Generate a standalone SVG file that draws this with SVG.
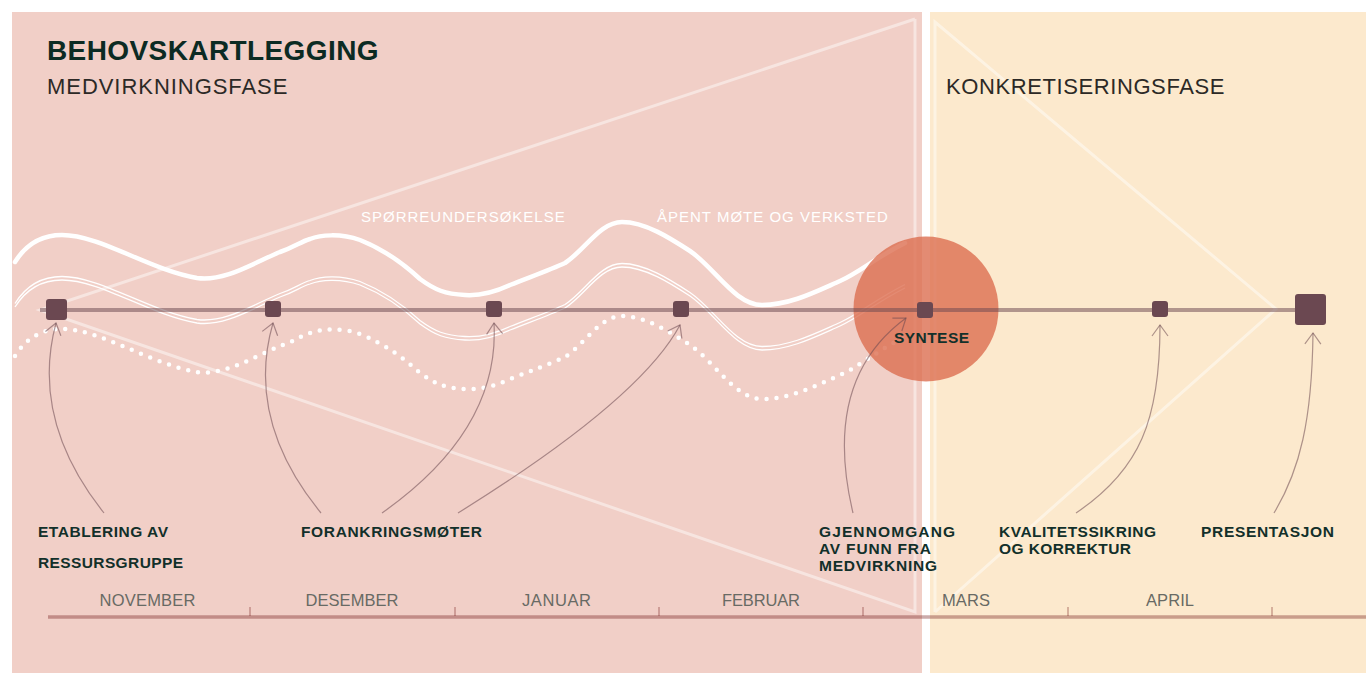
<svg xmlns="http://www.w3.org/2000/svg" xmlns:xlink="http://www.w3.org/1999/xlink" width="1366" height="673" viewBox="0 0 1366 673">
<style>
text{font-family:"Liberation Sans",Arial,sans-serif}
.title{font-size:28px;font-weight:bold;fill:#0c2b23;letter-spacing:0.4px}
.phase{font-size:22px;fill:#2c2926;letter-spacing:0.6px}
.lbl{font-size:15.5px;font-weight:bold;fill:#12302a}
.wl{font-size:15px;fill:#ffffff;letter-spacing:1px}
.month{font-size:16.5px;fill:#686a64;text-anchor:middle}
.tri{fill:none;stroke:#ffffff;stroke-opacity:0.45;stroke-width:3}
.node{fill:#6b4851}
.arr{fill:none;stroke:#6b4851;stroke-opacity:0.55;stroke-width:1.2}
.tick{stroke:#6f1516;stroke-opacity:0.36;stroke-width:1.5}
</style>
<defs>
<marker id="ah" markerUnits="userSpaceOnUse" markerWidth="24" markerHeight="24" viewBox="-12 -12 24 24" refX="0" refY="0" orient="auto">
<path d="M-11,-8 L0,0 L-11,8" fill="none" stroke="#6b4851" stroke-opacity="0.55" stroke-width="1.2"/>
</marker>
<path id="wave" d="M15,262 C25,246 40,235 62,235 C100,235 150,270 197,278 C225,282 255,262 280,252 C295,247 300,242 310,239 C320,235 340,233 360,240 C385,250 405,265 420,279 C435,290 445,294 465,295 C480,296 495,292 510,285 C530,277 550,270 565,263 C585,250 600,222 622,222 C645,222 670,238 690,251 C715,268 735,305 762,305 C790,305 815,292 840,281 C860,272 875,258 905,243"/>
</defs>
<g id="background">
<rect x="12" y="12" width="910" height="661" fill="#f1cfc7"/>
<rect x="930" y="12" width="436" height="661" fill="#fce9cd"/>
</g>
<g id="triangles">
<polyline class="tri" points="915,19 40,310 915,612 915,19"/>
<polyline class="tri" points="935,612 935,22 1276,309 935,612"/>
</g>
<g id="waves" fill="none" stroke="#ffffff">
<use xlink:href="#wave" stroke-width="4.5" stroke-linecap="round"/>
<use xlink:href="#wave" transform="translate(0,41.5)" stroke-width="1.3"/>
<use xlink:href="#wave" transform="translate(0,45)" stroke-width="1.3"/>
<use xlink:href="#wave" transform="translate(0,94)" stroke-width="4.5" stroke-linecap="round" stroke-dasharray="0 10"/>
</g>
<g id="wave-labels">
<text class="wl" x="361" y="222">SPØRREUNDERSØKELSE</text>
<text class="wl" x="657" y="222">ÅPENT MØTE OG VERKSTED</text>
</g>
<g id="headings">
<text class="title" x="47" y="60">BEHOVSKARTLEGGING</text>
<text class="phase" x="47" y="94" textLength="241" lengthAdjust="spacing">MEDVIRKNINGSFASE</text>
<text class="phase" x="946" y="94" textLength="279" lengthAdjust="spacing">KONKRETISERINGSFASE</text>
</g>
<g id="syntese-circle">
<circle cx="926" cy="309" r="72.5" fill="#dc6e50" fill-opacity="0.8"/>
</g>
<g id="timeline">
<line x1="40" y1="310" x2="1310" y2="310" stroke="#6b4851" stroke-opacity="0.52" stroke-width="4"/>
</g>
<g id="month-axis">
<line x1="48" y1="617" x2="1366" y2="617" stroke="#6f1516" stroke-opacity="0.36" stroke-width="3.5"/>
<line class="tick" x1="250" y1="607" x2="250" y2="616"/>
<line class="tick" x1="455" y1="607" x2="455" y2="616"/>
<line class="tick" x1="659" y1="607" x2="659" y2="616"/>
<line class="tick" x1="863" y1="607" x2="863" y2="616"/>
<line class="tick" x1="1068" y1="607" x2="1068" y2="616"/>
<line class="tick" x1="1272" y1="607" x2="1272" y2="616"/>
<text class="month" x="147.5" y="606" textLength="96" lengthAdjust="spacing">NOVEMBER</text>
<text class="month" x="352" y="606" textLength="93" lengthAdjust="spacing">DESEMBER</text>
<text class="month" x="556.5" y="606" textLength="69" lengthAdjust="spacing">JANUAR</text>
<text class="month" x="761" y="606" textLength="78" lengthAdjust="spacing">FEBRUAR</text>
<text class="month" x="966" y="606" textLength="48" lengthAdjust="spacing">MARS</text>
<text class="month" x="1170" y="606" textLength="48" lengthAdjust="spacing">APRIL</text>
</g>
<g id="connectors">
<path class="arr" marker-end="url(#ah)" d="M104,513 Q30,420 56,323"/>
<path class="arr" marker-end="url(#ah)" d="M321,513 Q245,420 273,323"/>
<path class="arr" marker-end="url(#ah)" d="M382,513 Q500,430 494,323"/>
<path class="arr" marker-end="url(#ah)" d="M458,513 Q640,400 680,325"/>
<path class="arr" marker-end="url(#ah)" d="M853,513 C838,450 835,370 906,318"/>
<path class="arr" marker-end="url(#ah)" d="M1076,513 C1140,470 1160,420 1160,325"/>
<path class="arr" marker-end="url(#ah)" d="M1274,513 C1300,470 1312,420 1313,333"/>
</g>
<g id="node-etablering">
<rect class="node" x="46" y="299" width="21" height="21" rx="3"/>
<text class="lbl" x="38" y="537" textLength="130" lengthAdjust="spacing">ETABLERING AV</text>
<text class="lbl" x="38" y="568" textLength="145" lengthAdjust="spacing">RESSURSGRUPPE</text>
</g>
<g id="node-forankring-1">
<rect class="node" x="265" y="301" width="16" height="16" rx="3"/>
<text class="lbl" x="301" y="537" textLength="181" lengthAdjust="spacing">FORANKRINGSMØTER</text>
</g>
<g id="node-forankring-2">
<rect class="node" x="486" y="301" width="16" height="16" rx="3"/>
</g>
<g id="node-forankring-3">
<rect class="node" x="673" y="301" width="16" height="16" rx="3"/>
</g>
<g id="node-syntese">
<rect class="node" x="917" y="302" width="16" height="16" rx="3"/>
<text class="lbl" x="894" y="343" textLength="75" lengthAdjust="spacing">SYNTESE</text>
<text class="lbl" x="819" y="537" textLength="136" lengthAdjust="spacing">GJENNOMGANG</text>
<text class="lbl" x="819" y="554" textLength="112" lengthAdjust="spacing">AV FUNN FRA</text>
<text class="lbl" x="819" y="571" textLength="118" lengthAdjust="spacing">MEDVIRKNING</text>
</g>
<g id="node-kvalitet">
<rect class="node" x="1152" y="301" width="16" height="16" rx="3"/>
<text class="lbl" x="999" y="537" textLength="157" lengthAdjust="spacing">KVALITETSSIKRING</text>
<text class="lbl" x="999" y="554" textLength="132" lengthAdjust="spacing">OG KORREKTUR</text>
</g>
<g id="node-presentasjon">
<rect class="node" x="1295" y="294" width="31" height="31" rx="3"/>
<text class="lbl" x="1201" y="537" textLength="133" lengthAdjust="spacing">PRESENTASJON</text>
</g>
</svg>
